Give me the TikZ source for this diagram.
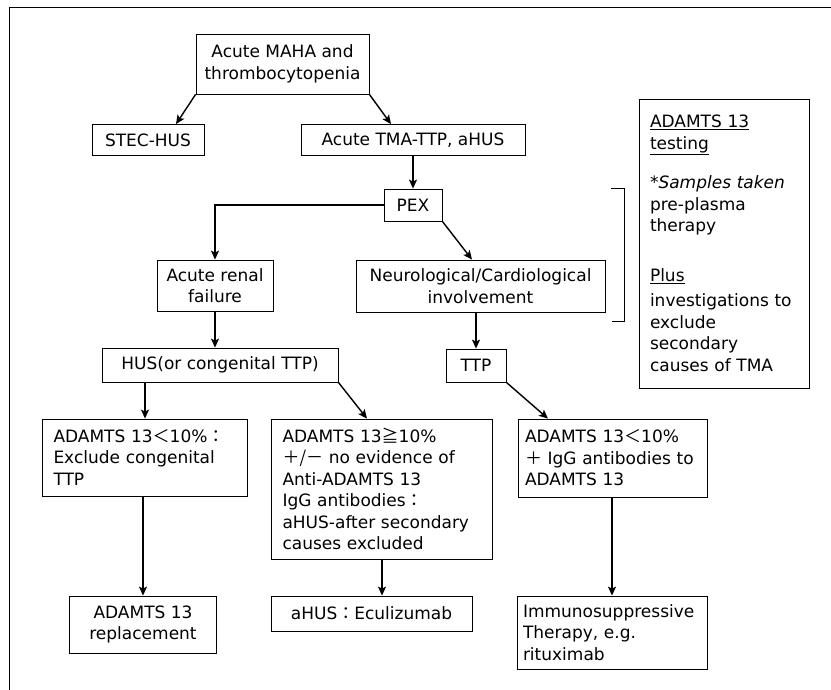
\documentclass[tikz,border=0pt]{standalone}
\usepackage{fontspec}
\setmainfont{DejaVu Sans}
\newfontfamily\cjk{Noto Sans CJK JP}
\usetikzlibrary{arrows.meta,calc}
\newcommand{\mainsz}{\fontsize{17}{21.5}\selectfont}
\begin{document}
\begin{tikzpicture}[x=1pt,y=-1pt,
  box/.style={draw, line width=0.8pt, inner sep=0pt, align=center, font=\mainsz},
  lbox/.style={box, align=left, inner xsep=11pt},
  arr/.style={-{Stealth[length=9pt,width=8pt,inset=2pt]}, line width=1.4pt},
  plain/.style={line width=1pt}]
\useasboundingbox (0,0) rectangle (831,690);
% frame
\draw[line width=0.9pt] (9,690) -- (9,7) -- (831,7);

\node[box, minimum width=173pt, minimum height=60pt] (top) at (282.5,64) {Acute MAHA and\\thrombocytopenia};
\node[box, minimum width=112pt, minimum height=31pt] (stec) at (148,140) {STEC-HUS};
\node[box, minimum width=224pt, minimum height=31pt] (tma) at (413,140) {Acute TMA-TTP, aHUS};
\node[box, minimum width=58pt, minimum height=32pt] (pex) at (413,205) {PEX};
\node[box, minimum width=116pt, minimum height=51pt] (arf) at (215,285.5) {Acute renal\\failure};
\node[box, minimum width=249pt, minimum height=52pt] (neuro) at (480.5,286) {Neurological/Cardiological\\involvement};
\node[box, minimum width=236pt, minimum height=34pt] (hus) at (220,365) {HUS(or congenital TTP)};
\node[box, minimum width=60pt, minimum height=33pt] (ttp) at (476,365.5) {TTP};

\node[lbox, text width=183pt, minimum height=77pt] (b1) at (145,457.5)
  {ADAMTS 13{\cjk ＜}10\%{\cjk ：}\\Exclude congenital\\TTP};
\node[lbox, text width=199pt, minimum height=140pt] (b2) at (382,489)
  {ADAMTS 13{\cjk ≧}10\%\\{\cjk ＋/－} no evidence of\\Anti-ADAMTS 13\\IgG antibodies{\cjk ：}\\aHUS-after secondary\\causes excluded};
\node[lbox, inner xsep=7pt, text width=175pt, minimum height=78pt] (b3) at (612.5,458)
  {ADAMTS 13{\cjk ＜}10\%\\{\cjk ＋} IgG antibodies to\\ADAMTS 13};

\node[box, minimum width=147pt, minimum height=57pt] (r1) at (143,624.5) {ADAMTS 13\\replacement};
\node[box, minimum width=201pt, minimum height=35pt] (r2) at (371.5,613.5) {aHUS{\cjk ：}Eculizumab};
\node[lbox, inner xsep=6pt, text width=178pt, minimum height=73pt] (r3) at (612,632.5)
  {Immunosuppressive\\Therapy, e.g.\\rituximab};

\node[lbox, text width=148pt, minimum height=289pt] (test) at (724,243.5)
  {\underline{ADAMTS 13}\\\underline{testing}\\[18pt]
   *{\itshape Samples taken}\\pre-plasma\\therapy\\[28pt]
   \underline{Plus}\\[4pt]
   investigations to\\exclude\\secondary\\causes of TMA};

% connectors
\draw[arr] (top.south west) -- ([xshift=28pt]stec.north);
\draw[arr] (top.south east) -- ([xshift=-22pt]tma.north);
\draw[arr] (tma.south) -- (pex.north);
\draw[arr] (pex.west) -| (arf.north);
\draw[arr] (pex.south east) -- ([xshift=-8.5pt]neuro.north);
\draw[arr] (arf.south) -- (arf.south |- hus.north);
\draw[arr] (ttp.north |- neuro.south) -- (ttp.north);
\draw[arr] (b1.north |- hus.south) -- (b1.north);
\draw[arr] (hus.south east) -- ([xshift=-15pt]b2.north);
\draw[arr] (ttp.south east) -- ([xshift=-64.5pt]b3.north);
\draw[arr] (r1.north |- b1.south) -- (r1.north);
\draw[arr] (b2.south) -- (b2.south |- r2.north);
\draw[arr] (b3.south -| r3.north) -- (r3.north);

% bracket
\coordinate (bt) at (611,189);
\coordinate (bb) at (612,321);
\draw[plain] (bt) -- (624,189) -- (624,321) -- (bb);
\end{tikzpicture}
\end{document}
